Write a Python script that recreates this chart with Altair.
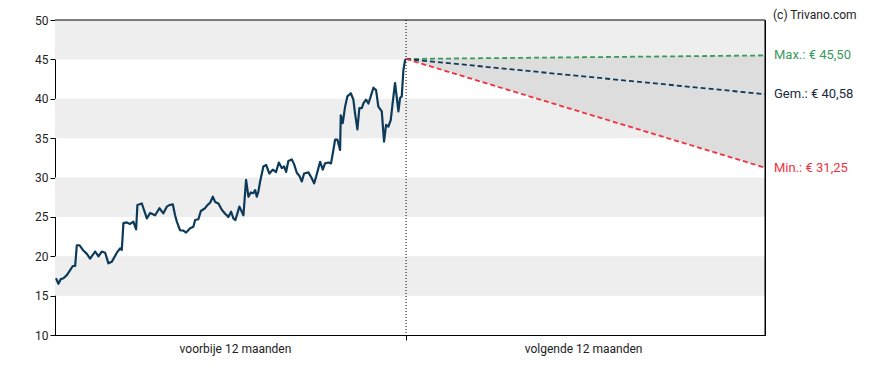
import altair as alt
import pandas as pd

# past 12 months: day offset (0 = today) and price
past_days = [-356, -353.5, -351.1, -348.4, -345.0, -341.6, -338.9, -336.5, -334.8, -332.2,
             -328.7, -324.6, -321.3, -316.2, -312.8, -309.4, -306.0, -302.7, -299.2, -294.1,
             -290.8, -289.1, -287.4, -284.0, -280.6, -277.3, -274.5, -273.2, -268.7, -263.6,
             -260.3, -255.2, -250.8, -246.8, -243.3, -240.7, -237.2, -234.9, -233.1, -229.8,
             -226.4, -223.7, -219.6, -216.3, -214.5, -211.2, -208.7, -204.4, -202.0, -199.3,
             -196.5, -194.2, -190.8, -187.4, -184.0, -180.7, -177.9, -175.6, -173.6, -171.5,
             -169.5, -167.0, -165.4, -162.7, -160.3, -157.9, -155.3, -153.5, -151.8, -150.2,
             -148.4, -145.1, -142.3, -139.0, -135.5, -132.2, -129.4, -126.4, -124.0, -122.0,
             -119.7, -116.2, -113.9, -111.1, -108.5, -106.0, -103.7, -99.3, -95.9, -93.5,
             -91.5, -87.4, -84.7, -82.4, -79.0, -76.3, -73.9, -72.2, -69.8, -67.1,
             -66.4, -64.4, -62.0, -59.7, -56.2, -53.6, -51.9, -49.5, -47.5, -45.0,
             -43.4, -40.7, -38.3, -35.9, -33.2, -30.5, -28.2, -24.7, -22.4, -20.3,
             -18.0, -15.6, -13.5, -11.2, -7.8, -6.1, -4.4, -2.7, -1.0, 0]
past_price = [17.2, 16.5, 17.1, 17.2, 17.6, 18.25, 18.76, 18.76, 21.4, 21.4,
              20.8, 20.3, 19.7, 20.6, 20.0, 20.6, 20.45, 19.1, 19.3, 20.45,
              21.0, 20.8, 24.2, 24.3, 24.1, 24.4, 23.4, 26.5, 26.7, 24.8,
              25.5, 25.2, 26.1, 25.45, 26.3, 26.5, 26.6, 25.2, 24.4, 23.3,
              23.25, 23.0, 23.55, 23.75, 24.6, 24.7, 25.75, 26.1, 26.5, 26.8,
              27.56, 26.9, 26.7, 25.9, 25.4, 25.0, 25.65, 24.8, 24.6, 25.45,
              26.3, 25.65, 25.2, 29.7, 27.56, 28.1, 28.0, 28.4, 27.56, 28.2,
              29.5, 31.4, 31.6, 30.5, 31.0, 30.7, 31.9, 31.2, 31.4, 30.7,
              32.1, 32.3, 31.7, 30.6, 30.2, 29.5, 30.5, 30.65, 29.9, 29.25,
              30.1, 32.0, 31.0, 31.8, 31.9, 31.8, 33.5, 34.8, 34.8, 33.5,
              37.9, 36.9, 39.0, 40.3, 40.7, 39.9, 38.15, 36.1, 38.8, 38.8,
              39.4, 39.9, 39.4, 40.3, 41.4, 41.1, 39.0, 38.4, 34.55, 36.7,
              36.45, 37.3, 39.6, 42.0, 38.4, 40.1, 40.3, 43.65, 44.9, 45.05]

# forecast (next 12 months)
fc_start_day = 0
fc_end_day = 365
fc_start = 45.05
fc_names = ["Max", "Gem", "Min"]
fc_end = [45.50, 40.58, 31.25]
fc_labels = ["Max.: € 45,50", "Gem.: € 40,58", "Min.: € 31,25"]
fc_colors = ["#3a9a5c", "#0e3a5a", "#f0323f"]
fc_label_colors = ["#3a9a5c", "#1a2c40", "#f0323f"]

# background bands
band_low = [15, 25, 35, 45]
band_high = [20, 30, 40, 50]

y_ticks = [10, 15, 20, 25, 30, 35, 40, 45, 50]
period_pos = [-174, 0, 180]
period_labels = ["voorbije 12 maanden", "", "volgende 12 maanden"]

x_domain = [-357, 365]
y_domain = [10, 50]

FONT = "Roboto"

label_expr = ("datum.value < 0 ? '" + period_labels[0] + "' : (datum.value > 0 ? '"
              + period_labels[2] + "' : '')")

x_axis = alt.Axis(values=period_pos, labelExpr=label_expr, title=None, grid=False,
                  tickSize=5, tickColor="black",
                  tickOpacity={"condition": {"test": "datum.value === 0", "value": 1}, "value": 0},
                  domainColor="black", labelFontSize=12, labelColor="#222222",
                  labelFont=FONT, labelPadding=3)
y_axis = alt.Axis(values=y_ticks, title=None, grid=False, tickSize=5, tickColor="black",
                  domainColor="black", labelFontSize=12, labelColor="#222222",
                  labelFont=FONT, labelPadding=2)

xs = alt.Scale(domain=x_domain, nice=False, zero=False)
ys = alt.Scale(domain=y_domain, nice=False, zero=False)

bands_df = pd.DataFrame({"lo": band_low, "hi": band_high,
                         "x0": [x_domain[0]] * 4, "x1": [x_domain[1]] * 4})
bands = alt.Chart(bands_df).mark_rect(color="#eeeeee").encode(
    x=alt.X("x0:Q", scale=xs, axis=x_axis),
    x2="x1:Q",
    y=alt.Y("lo:Q", scale=ys, axis=y_axis),
    y2="hi:Q",
)

area_df = pd.DataFrame({"d": [fc_start_day, fc_end_day],
                        "lo": [fc_start, fc_end[2]],
                        "hi": [fc_start, fc_end[0]]})
area = alt.Chart(area_df).mark_area(color="#dddddd", opacity=1).encode(
    x=alt.X("d:Q", scale=xs, axis=x_axis),
    y=alt.Y("lo:Q", scale=ys, axis=y_axis),
    y2="hi:Q",
)

now_df = pd.DataFrame({"d": [0]})
now_rule = alt.Chart(now_df).mark_rule(color="black", strokeDash=[1, 2], strokeWidth=1).encode(
    x=alt.X("d:Q", scale=xs, axis=x_axis),
)

# frame: top and right borders drawn above the bands
top_df = pd.DataFrame({"v": [y_domain[1]]})
top_rule = alt.Chart(top_df).mark_rule(color="black", strokeWidth=1).encode(
    y=alt.Y("v:Q", scale=ys, axis=y_axis),
)
right_df = pd.DataFrame({"d": [x_domain[1]]})
right_rule = alt.Chart(right_df).mark_rule(color="black", strokeWidth=1).encode(
    x=alt.X("d:Q", scale=xs, axis=x_axis),
)

past_df = pd.DataFrame({"d": past_days, "p": past_price})
line = alt.Chart(past_df).mark_line(color="#0e3a5a", strokeWidth=2.2, strokeJoin="round").encode(
    x=alt.X("d:Q", scale=xs, axis=x_axis),
    y=alt.Y("p:Q", scale=ys, axis=y_axis),
)

rows = []
for n, e in zip(fc_names, fc_end):
    rows.append({"s": n, "d": fc_start_day, "v": fc_start})
    rows.append({"s": n, "d": fc_end_day, "v": e})
fc_df = pd.DataFrame(rows)
fc_lines = alt.Chart(fc_df).mark_line(strokeDash=[5, 3], strokeWidth=1.8).encode(
    x=alt.X("d:Q", scale=xs, axis=x_axis),
    y=alt.Y("v:Q", scale=ys, axis=y_axis),
    color=alt.Color("s:N", scale=alt.Scale(domain=fc_names, range=fc_colors), legend=None),
    detail="s:N",
)

lab_df = pd.DataFrame({"s": fc_names, "t": fc_labels, "v": fc_end,
                       "d": [fc_end_day] * 3})
labels = alt.Chart(lab_df).mark_text(align="left", baseline="middle", dx=9,
                                     fontSize=13, font=FONT).encode(
    x=alt.X("d:Q", scale=xs, axis=x_axis),
    y=alt.Y("v:Q", scale=ys, axis=y_axis),
    text="t:N",
    color=alt.Color("s:N", scale=alt.Scale(domain=fc_names, range=fc_label_colors), legend=None),
)

copy_df = pd.DataFrame({"d": [fc_end_day], "t": ["(c) Trivano.com"]})
copyright_txt = alt.Chart(copy_df).mark_text(align="left", baseline="top", dx=8,
                                             fontSize=12, font=FONT, color="#222222").encode(
    x=alt.X("d:Q", scale=xs, axis=x_axis),
    y=alt.value(-10),
    text="t:N",
)

chart = alt.layer(bands, area, now_rule, top_rule, right_rule, line, fc_lines, labels,
                  copyright_txt).resolve_scale(
    color="independent"
).properties(
    width=710, height=315,
    padding={"left": 47, "top": 12, "right": 115, "bottom": 25},
    autosize="none",
    background="white",
).configure_view(stroke="black", strokeWidth=1)

chart.save("out.html", embed_options={"renderer": "svg", "actions": False})
